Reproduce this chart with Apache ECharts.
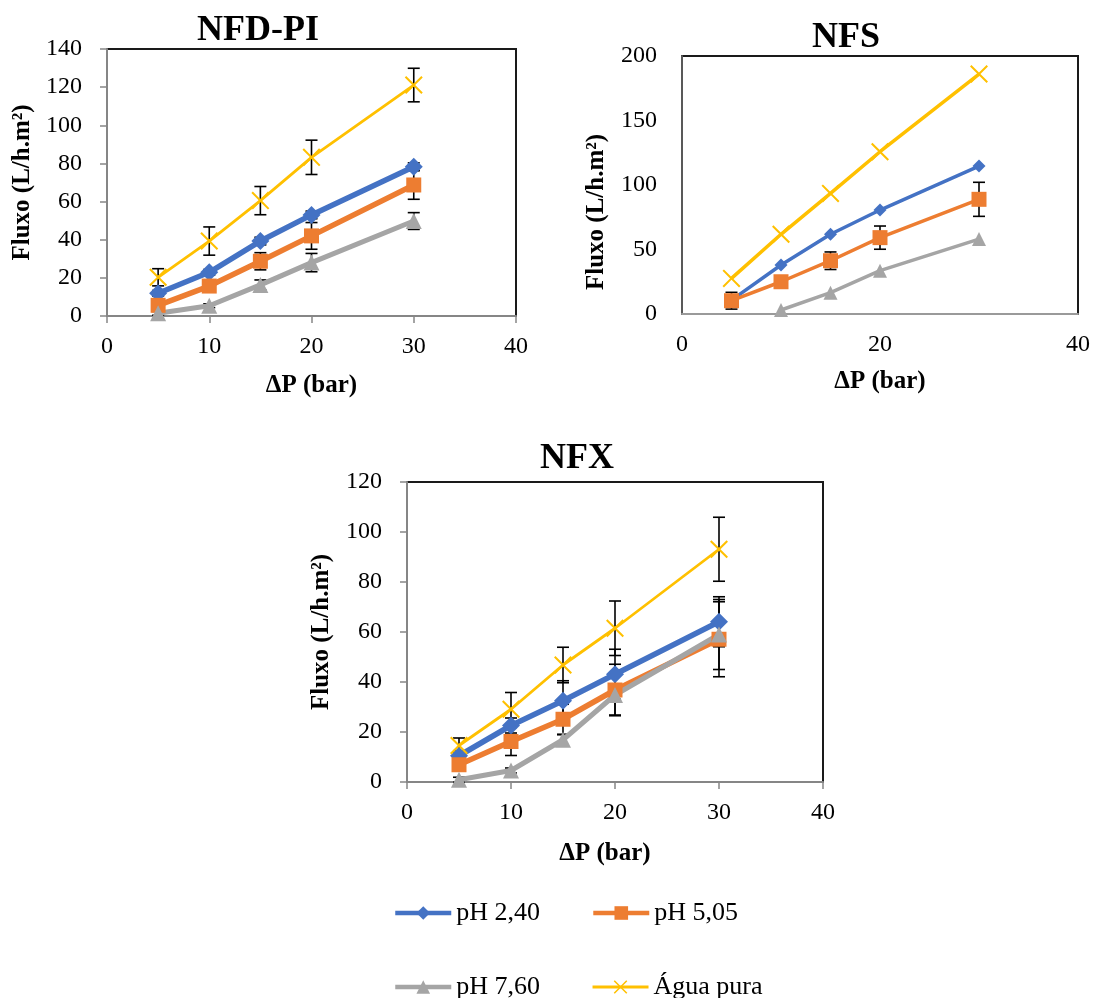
<!DOCTYPE html>
<html>
<head>
<meta charset="utf-8">
<script src="https://cdn.jsdelivr.net/npm/echarts@6/dist/echarts.min.js"></script>
<style>html,body{margin:0;padding:0;background:#fff}#c{width:1094px;height:998px}</style>
</head>
<body>
<div id="c"></div>
<script>
// ---- data ----
const pressures = [5, 10, 15, 20, 30];
const seriesNames = ['pH 2,40', 'pH 5,05', 'pH 7,60', 'Água pura'];
const chartTitles = ['NFD-PI', 'NFS', 'NFX'];

// NFD-PI
const nfdpi_ph240 = [11.9, 22.9, 39.3, 53.0, 78.3];
const nfdpi_ph505 = [5.6, 15.7, 28.7, 42.0, 68.7];
const nfdpi_ph760 = [1.4, 5.4, 16.3, 28.0, 49.8];
const nfdpi_agua  = [20.3, 39.3, 60.5, 83.2, 121.1];
const nfdpi_err_ph240 = [1.5, 1.5, 2, 2, 2];
const nfdpi_err_ph505 = [1.5, 2, 4.5, 7, 7.5];
const nfdpi_err_ph760 = [1, 1, 2.6, 4.8, 4.4];
const nfdpi_err_agua  = [4.5, 7.4, 7.4, 9, 8.8];

// NFS
const nfs_ph240 = [10.8, 38.0, 61.8, 80.6, 114.7];
const nfs_ph505 = [10.3, 25.0, 41.3, 59.2, 88.9];
const nfs_ph760 = [null, 3.1, 16.5, 33.6, 58.1];
const nfs_agua  = [27.6, 61.8, 93.5, 125.8, 186.0];
const nfs_err_ph240 = [0, 0, 0, 0, 0];
const nfs_err_ph505 = [6.5, 0, 6.8, 9, 13.2];
const nfs_err_ph760 = [0, 0, 0, 0, 0];
const nfs_err_agua  = [0, 0, 0, 0, 0];

// NFX
const nfx_ph240 = [10.5, 22.6, 32.5, 43.1, 64.1];
const nfx_ph505 = [6.9, 16.2, 25.1, 36.8, 57.1];
const nfx_ph760 = [0.9, 4.6, 16.9, 34.8, 59.0];
const nfx_agua  = [14.6, 29.1, 46.8, 61.5, 93.1];
const nfx_err_ph240 = [2, 3, 8, 10, 10];
const nfx_err_ph505 = [2, 5.6, 6, 10.3, 15];
const nfx_err_ph760 = [1, 1, 2, 8, 14];
const nfx_err_agua  = [3, 6.7, 7.1, 10.9, 12.8];

// ---- styling ----
const FONT = 'Liberation Serif';
const COLORS = ['#4472C4', '#ED7D31', '#A5A5A5', '#FFC000'];
const XPATH = 'path://M0,0.8L0.8,0L5,4.2L9.2,0L10,0.8L5.8,5L10,9.2L9.2,10L5,5.8L0.8,10L0,9.2L4.2,5Z';
const SYMBOLS = ['diamond', 'rect', 'triangle', XPATH];

const thick = { widths: [5.5, 5.5, 5, 2.8], sizes: [18, 15, 16, 18] };
const thin  = { widths: [3.5, 3.5, 3.5, 3.5], sizes: [13, 15, 14, 18] };
const legendWidths = [4.5, 4.5, 4.5, 3];

const chartDefs = [
  { vals: [nfdpi_ph240, nfdpi_ph505, nfdpi_ph760, nfdpi_agua],
    errs: [nfdpi_err_ph240, nfdpi_err_ph505, nfdpi_err_ph760, nfdpi_err_agua], st: thick },
  { vals: [nfs_ph240, nfs_ph505, nfs_ph760, nfs_agua],
    errs: [nfs_err_ph240, nfs_err_ph505, nfs_err_ph760, nfs_err_agua], st: thin },
  { vals: [nfx_ph240, nfx_ph505, nfx_ph760, nfx_agua],
    errs: [nfx_err_ph240, nfx_err_ph505, nfx_err_ph760, nfx_err_agua], st: thick }
];

function errRender(params, api) {
  const x = api.value(0), y = api.value(1), e = api.value(2);
  if (y == null || isNaN(y) || !e) return;
  const t = api.coord([x, y + e]), b = api.coord([x, y - e]);
  const cw = 6;
  const st = { stroke: '#000', lineWidth: 1.6 };
  return { type: 'group', children: [
    { type: 'line', shape: { x1: t[0], y1: t[1], x2: b[0], y2: b[1] }, style: st },
    { type: 'line', shape: { x1: t[0] - cw, y1: t[1], x2: t[0] + cw, y2: t[1] }, style: st },
    { type: 'line', shape: { x1: b[0] - cw, y1: b[1], x2: b[0] + cw, y2: b[1] }, style: st }
  ]};
}

const series = [];
chartDefs.forEach((cd, g) => {
  cd.vals.forEach((arr, i) => {
    series.push({
      type: 'custom', xAxisIndex: g, yAxisIndex: g, z: 1,
      renderItem: errRender, encode: { x: 0, y: 1 },
      data: pressures.map((p, k) => [p, arr[k], cd.errs[i][k]]),
      silent: true
    });
  });
  cd.vals.forEach((arr, i) => {
    series.push({
      type: 'line', name: seriesNames[i], xAxisIndex: g, yAxisIndex: g, z: 3,
      data: pressures.map((p, k) => [p, arr[k]]),
      symbol: SYMBOLS[i], symbolSize: cd.st.sizes[i],
      lineStyle: { color: COLORS[i], width: cd.st.widths[i] },
      itemStyle: { color: COLORS[i] },
      connectNulls: false, animation: false
    });
  });
});

const grids = [
  { left: 107, top: 49, width: 409, height: 267 },
  { left: 682, top: 56, width: 396, height: 258 },
  { left: 407, top: 482, width: 416, height: 300 }
];
const axisCfg = [
  { xInt: 10, yMax: 140, yInt: 20, ticks: true, xName: {gap: 57, pad: 0}, yName: {gap: 72, pad: [0,0,0,0]} },
  { xInt: 20, yMax: 200, yInt: 50, ticks: false, xName: {gap: 55, pad: 0}, yName: {gap: 73, pad: [0,54,0,0]} },
  { xInt: 10, yMax: 120, yInt: 20, ticks: true, xName: {gap: 59, pad: [0,20,0,0]}, yName: {gap: 73, pad: [0,0,0,0]} }
];
const axisLineColor = '#868686';
const labelStyle = { fontFamily: FONT, fontSize: 24, color: '#000' };
const nameStyle = { fontFamily: FONT, fontSize: 25, fontWeight: 'bold', color: '#000' };

const xAxes = axisCfg.map((a, g) => ({
  type: 'value', gridIndex: g, min: 0, max: 40, interval: a.xInt,
  name: 'ΔP (bar)', nameLocation: 'middle', nameGap: a.xName.gap,
  nameTextStyle: Object.assign({ padding: a.xName.pad }, nameStyle),
  axisLine: { show: true, onZero: false, lineStyle: { color: g === 1 ? '#9a9a9a' : axisLineColor, width: 2 } },
  axisTick: { show: a.ticks, inside: false, length: 7, lineStyle: { color: axisLineColor, width: 1.5 } },
  axisLabel: Object.assign({ margin: 19 }, labelStyle),
  splitLine: { show: false }
}));
const yAxes = axisCfg.map((a, g) => ({
  type: 'value', gridIndex: g, min: 0, max: a.yMax, interval: a.yInt,
  name: 'Fluxo (L/h.m²)', nameLocation: 'middle', nameGap: a.yName.gap,
  nameTextStyle: Object.assign({ padding: a.yName.pad }, nameStyle),
  axisLine: { show: true, onZero: false, lineStyle: { color: g === 1 ? '#595959' : axisLineColor, width: 2 } },
  axisTick: { show: a.ticks, inside: false, length: 7, lineStyle: { color: axisLineColor, width: 1.5 } },
  axisLabel: Object.assign({ margin: 25 }, labelStyle),
  splitLine: { show: false }
}));

const titleStyle = { fontFamily: FONT, fontSize: 36, fontWeight: 'bold', color: '#000' };
const titlePos = [{ left: 197, top: 13 }, { left: 812, top: 20 }, { left: 540, top: 441 }];

const legendText = { fontFamily: FONT, fontSize: 26, color: '#000' };
function legendItems(idx) {
  return idx.map(i => ({ name: seriesNames[i], lineStyle: { width: legendWidths[i], color: COLORS[i] } }));
}
const option = {
  backgroundColor: '#fff',
  animation: false,
  title: chartTitles.map((t, i) => Object.assign({ text: t, textStyle: titleStyle, padding: 0 }, titlePos[i])),
  grid: grids.map(g => Object.assign({ show: true, borderColor: '#1a1a1a', borderWidth: 2, backgroundColor: '#fff', containLabel: false }, g)),
  xAxis: xAxes,
  yAxis: yAxes,
  legend: [
    { data: legendItems([0, 1]), left: 393, top: 900, itemWidth: 56, itemHeight: 17, itemGap: 51,
      textStyle: legendText, padding: 0, selectedMode: false },
    { data: legendItems([2, 3]), left: 393, top: 974, itemWidth: 56, itemHeight: 17, itemGap: 51,
      textStyle: legendText, padding: 0, selectedMode: false }
  ],
  series: series
};

const chart = echarts.init(document.getElementById('c'), null, { renderer: 'canvas' });
chart.setOption(option);
</script>
</body>
</html>
